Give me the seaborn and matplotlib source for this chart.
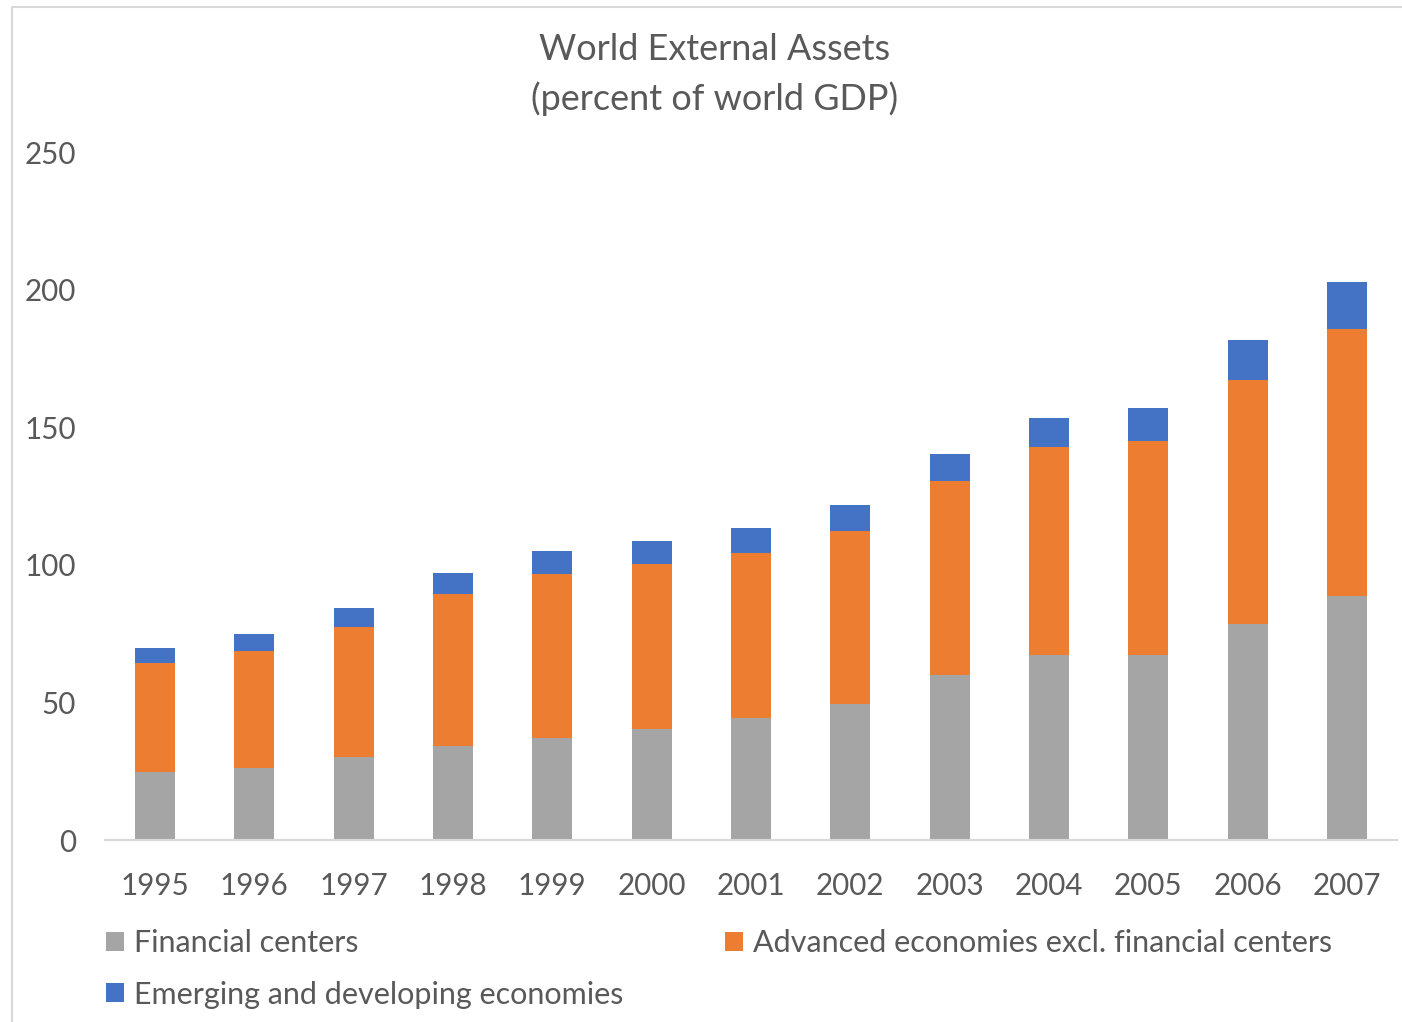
import matplotlib
matplotlib.use("Agg")
import matplotlib.pyplot as plt
from matplotlib.patches import Rectangle
import numpy as np
import pandas as pd
import seaborn as sns

years = ["1995", "1996", "1997", "1998", "1999", "2000", "2001",
         "2002", "2003", "2004", "2005", "2006", "2007"]
financial_centers = [24.7, 26.2, 30.2, 34.2, 37.1, 40.3, 44.3, 49.4, 60.0, 67.2, 67.2, 78.5, 88.7]
advanced_excl_fc = [39.6, 42.5, 47.2, 55.2, 59.6, 60.0, 60.0, 62.9, 70.5, 75.6, 77.8, 88.7, 97.0]
emerging_developing = [5.5, 6.2, 6.9, 7.6, 8.3, 8.3, 9.1, 9.4, 9.8, 10.5, 12.0, 14.5, 17.1]

series_names = ["Financial centers",
                "Advanced economies excl. financial centers",
                "Emerging and developing economies"]
colors = ["#A5A5A5", "#ED7D31", "#4472C4"]
text_color = "#595959"

sns.set_theme(style="white")
plt.rcParams["font.family"] = ["Lato", "DejaVu Sans"]

df = pd.DataFrame({
    "year": years,
    "fc": financial_centers,
    "adv": advanced_excl_fc,
    "emd": emerging_developing,
})
df["top_fc"] = df["fc"]
df["top_adv"] = df["fc"] + df["adv"]
df["top_emd"] = df["top_adv"] + df["emd"]

fig = plt.figure(figsize=(14.02, 10.22), dpi=100)
ax = fig.add_axes([105.3 / 1402, 182 / 1022, 1291.4 / 1402, 688 / 1022])

# stacked bars drawn as layered cumulative totals (tallest first)
for col, c in zip(["top_emd", "top_adv", "top_fc"], colors[::-1]):
    sns.barplot(data=df, x="year", y=col, color=c, width=0.4,
                saturation=1, ax=ax, edgecolor="none", linewidth=0)

ax.set_ylim(0, 250)
ax.set_yticks([0, 50, 100, 150, 200, 250])
ax.set_xlabel("")
ax.set_ylabel("")
for s in ["top", "right", "left"]:
    ax.spines[s].set_visible(False)
ax.spines["bottom"].set_color("#D9D9D9")
ax.spines["bottom"].set_linewidth(1.5)
ax.tick_params(axis="y", length=0, pad=21, labelsize=21.3, labelcolor=text_color)
ax.tick_params(axis="x", length=0, pad=23, labelsize=21.3, labelcolor=text_color)
ax.grid(False)

fig.text(715 / 1402, 1 - 50 / 1022, "World External Assets", ha="center",
         va="center", fontsize=25.9, color=text_color)
fig.text(715 / 1402, 1 - 99 / 1022, "(percent of world GDP)", ha="center",
         va="center", fontsize=25.9, color=text_color)

# legend: first column holds two entries, second column one
order = [0, 2, 1]
handles = [Rectangle((0, 0), 1, 1, facecolor=colors[i], edgecolor="none") for i in order]
labels = [series_names[i] for i in order]
leg = fig.legend(handles, labels, ncol=2, loc="upper left",
                 bbox_to_anchor=(106 / 1402, 1 - 929 / 1022),
                 frameon=False, fontsize=22.0, handlelength=0.6, handleheight=0.6,
                 handletextpad=0.33, labelspacing=0.77, columnspacing=3.3,
                 borderaxespad=0, borderpad=0)
for t in leg.get_texts():
    t.set_color(text_color)

# chart area frame
fig.add_artist(Rectangle((12 / 1402, -0.05), 1.2, 1 - 7 / 1022 + 0.05,
                         transform=fig.transFigure, fill=False,
                         edgecolor="#D9D9D9", linewidth=1.5))

fig.savefig("out.png", dpi=100, facecolor="white")
